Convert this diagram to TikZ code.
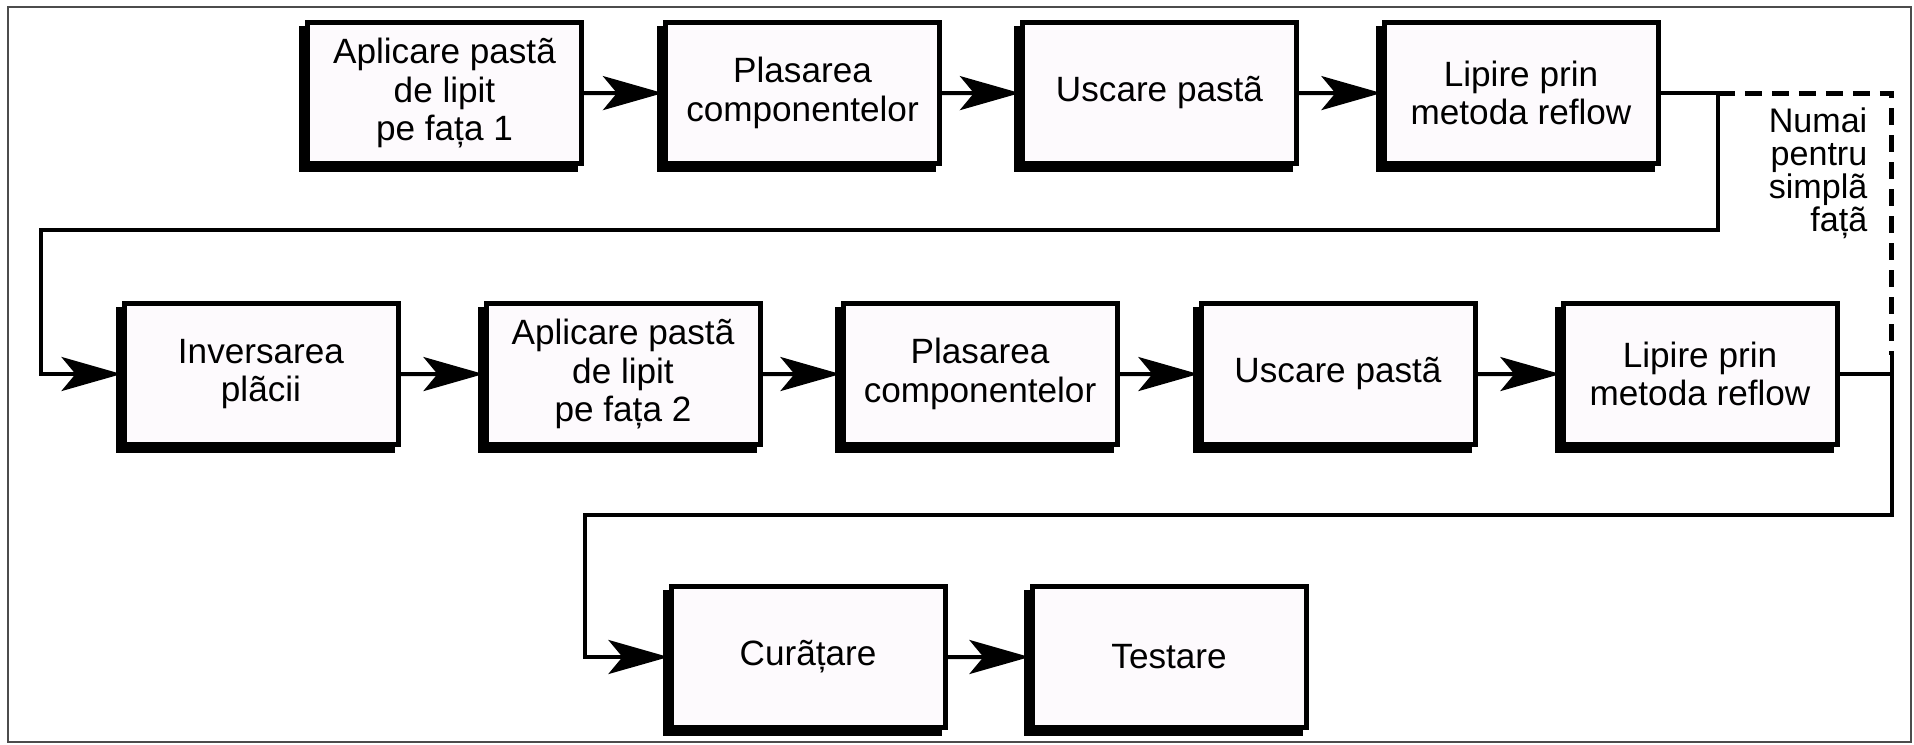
\documentclass[tikz,border=0pt]{standalone}
\usepackage{fontspec}
\setsansfont{Liberation Sans}
\usetikzlibrary{arrows.meta}
\usetikzlibrary{shadows}
\definecolor{paleLilac}{RGB}{253,250,253}

\begin{document}
\begin{tikzpicture}[scale = 10, font=\sffamily]
	\tikzstyle{boxStyle}=[shape = rectangle, minimum width = 27.4mm, minimum height = 14.1mm, inner sep = 0pt, align = center, draw, line width = 0.5mm, fill = paleLilac, general shadow = {fill = black, draw = black, line width = 0.5mm, shadow xshift = -0.6mm, shadow yshift = -0.6mm}, font = \sffamily\fontsize{10pt}{11pt}\selectfont]
	\tikzstyle{noteStyle}=[inner sep = 0pt, align = right, font = \sffamily\fontsize{9.7pt}{9.4pt}\selectfont]
	\tikzstyle{lineStyle}=[line width = 0.4mm]
	\tikzstyle{linkStyle}=[line width = 0.4mm, -{Stealth[length = 6mm, width = 3.4mm, inset = 1.4mm]}]
	\tikzstyle{dashStyle}=[line width = 0.5mm, dash pattern = on 1.7mm off 1mm]
	\tikzstyle{frameStyle}=[line width = 0.2mm, draw = black!70]
	\useasboundingbox (0, 0) rectangle (1.914, 0.745);
	\draw[frameStyle] (0.008, 0.003) rectangle (1.911, 0.738);
	% randul 1
	\node[boxStyle] (b1) at (0.4445, 0.652) {Aplicare pastã\\de lipit\\pe fața 1};
	\node[boxStyle] (b2) at (0.8025, 0.652) {Plasarea\\componentelor};
	\node[boxStyle] (b3) at (1.1595, 0.652) {Uscare pastã};
	\node[boxStyle] (b4) at (1.5210, 0.652) {Lipire prin\\metoda reflow};
	% randul 2
	\node[boxStyle] (b5) at (0.2610, 0.371) {Inversarea\\plãcii};
	\node[boxStyle] (b6) at (0.6230, 0.371) {Aplicare pastã\\de lipit\\pe fața 2};
	\node[boxStyle] (b7) at (0.9800, 0.371) {Plasarea\\componentelor};
	\node[boxStyle] (b8) at (1.3380, 0.371) {Uscare pastã};
	\node[boxStyle] (b9) at (1.7000, 0.371) {Lipire prin\\metoda reflow};
	% randul 3
	\node[boxStyle] (b10) at (0.8080, 0.088) {Curãțare};
	\node[boxStyle] (b11) at (1.1690, 0.088) {Testare};
	\node[noteStyle, anchor = east] (note) at (1.868, 0.572) {Numai\\pentru\\simplã\\fațã};
	\coordinate (splitA) at (1.718, 0.652);
	\coordinate (leftA) at (0.041, 0.515);
	\coordinate (joinTop) at (1.892, 0.390);
	\coordinate (leftB) at (0.585, 0.230);
	\draw[linkStyle] (b1) -- (b2);
	\draw[linkStyle] (b2) -- (b3);
	\draw[linkStyle] (b3) -- (b4);
	\draw[linkStyle] (b4.east) -- (splitA) |- (leftA) |- (b5.west);
	\draw[linkStyle] (b5) -- (b6);
	\draw[linkStyle] (b6) -- (b7);
	\draw[linkStyle] (b7) -- (b8);
	\draw[linkStyle] (b8) -- (b9);
	\draw[dashStyle] (splitA) -| (joinTop);
	\draw[lineStyle] (b9.east) -- (b9.east -| joinTop);
	\draw[linkStyle] (joinTop) |- (leftB) |- (b10.west);
	\draw[linkStyle] (b10) -- (b11);
\end{tikzpicture}
\end{document}
